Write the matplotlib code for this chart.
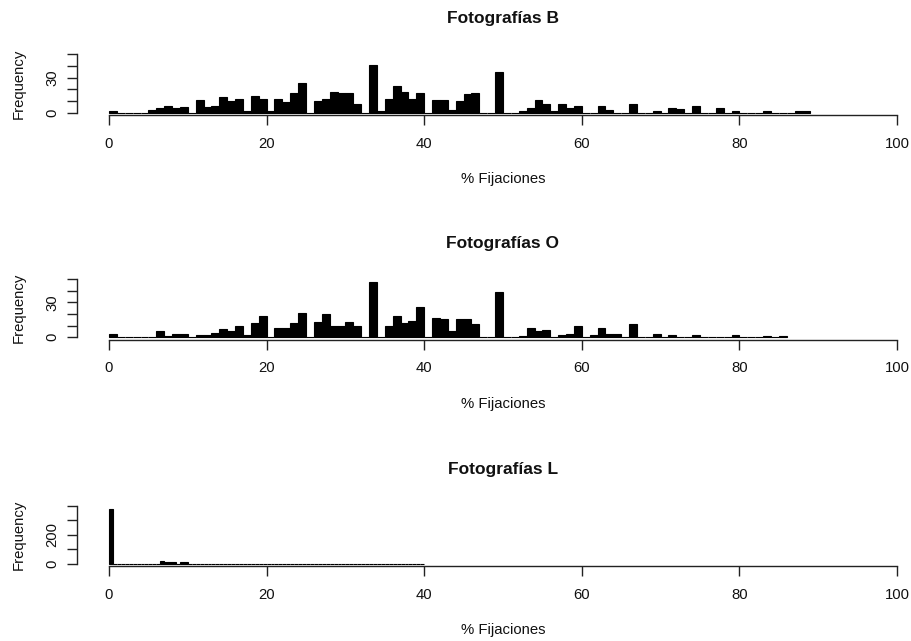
import matplotlib
matplotlib.use("Agg")
import matplotlib.pyplot as plt
import numpy as np

plt.rcParams['font.family'] = ['Liberation Sans', 'DejaVu Sans']

# histogram counts, bins of width 1 starting at 0
b_counts = [1, 0, 0, 0, 0, 2, 4, 6, 4, 5, 0, 11, 5, 6, 13, 10, 12, 1, 14, 12,
            1, 12, 9, 17, 25, 0, 10, 12, 18, 17, 17, 7, 0, 41, 1, 12, 23, 18, 12, 17,
            0, 11, 11, 2, 10, 16, 17, 0, 0, 35, 0, 0, 1, 4, 11, 7, 1, 7, 4, 6,
            0, 0, 6, 2, 0, 0, 7, 0, 0, 1, 0, 4, 3, 0, 6, 0, 0, 4, 0, 1,
            0, 0, 0, 1, 0, 0, 0, 1, 1]
o_counts = [3, 0, 0, 0, 0, 0, 5, 1, 3, 3, 0, 2, 2, 4, 7, 5, 10, 2, 12, 18,
            0, 8, 8, 12, 21, 0, 13, 20, 10, 10, 13, 10, 0, 48, 0, 10, 18, 12, 14, 26,
            0, 17, 16, 5, 16, 16, 11, 0, 0, 39, 0, 0, 1, 8, 5, 6, 0, 2, 3, 10,
            0, 2, 8, 3, 3, 0, 11, 0, 0, 3, 0, 2, 0, 0, 2, 0, 0, 0, 0, 2,
            0, 0, 0, 1, 0, 1]
# L uses bins of width 0.5 from 0 to 40
l_counts = [378] + [0] * 12 + [18, 14, 14, 14, 0, 11, 11] + [0] * 60

titles = ["Fotografías B", "Fotografías O", "Fotografías L"]
bin_widths = [1.0, 1.0, 0.5]
y_ticks = [[0, 10, 20, 30, 40, 50], [0, 10, 20, 30, 40, 50], [0, 100, 200, 300, 400]]
y_labels = [["0", "", "", "30", "", ""], ["0", "", "", "30", "", ""], ["0", "", "200", "", ""]]
x_ticks = [0, 20, 40, 60, 80, 100]
x_label = "% Fijaciones"

W, H = 912, 641
fig = plt.figure(figsize=(W / 100, H / 100), dpi=100)

# plot regions in pixels: (top, bottom)
regions = [(52, 115), (277, 339.5), (503.4, 566)]
left_px, right_px = 77.5, 928.5
fs = 10.7

for counts, title, bw, yt, yl, (top, bot) in zip(
        [b_counts, o_counts, l_counts], titles, bin_widths, y_ticks, y_labels, regions):
    ax = fig.add_axes([left_px / W, 1 - bot / H, (right_px - left_px) / W, (bot - top) / H])
    counts = np.array(counts)
    edges = np.arange(len(counts)) * bw
    ax.bar(edges, counts, width=bw, align='edge', color='black',
           edgecolor='black', linewidth=0.8)

    ymax = yt[-1]
    pad = ymax * 0.04
    ax.set_xlim(-4, 104)
    ax.set_ylim(-pad, ymax + pad)

    for s in ['top', 'right']:
        ax.spines[s].set_visible(False)
    ax.spines['bottom'].set_bounds(0, 100)
    ax.spines['left'].set_bounds(0, ymax)
    for s in ['bottom', 'left']:
        ax.spines[s].set_color('#222222')
        ax.spines[s].set_linewidth(1.0)

    ax.set_xticks(x_ticks)
    ax.set_xticklabels([str(t) for t in x_ticks])
    ax.set_yticks(yt)
    ax.set_yticklabels(yl, rotation=90, va='center')
    ax.tick_params(axis='both', length=7, width=1.0, color='#222222',
                   labelsize=fs, labelcolor='#111111')
    ax.tick_params(axis='x', pad=8.5)
    ax.tick_params(axis='y', pad=6)

    ax.set_xlabel(x_label, fontsize=fs, labelpad=15.5, color='#111111')
    ax.set_ylabel("Frequency", fontsize=fs, labelpad=14, color='#111111')
    ax.set_title(title, fontsize=12.5, fontweight='bold', pad=21, color='#111111')

fig.savefig("out.png", dpi=100)
